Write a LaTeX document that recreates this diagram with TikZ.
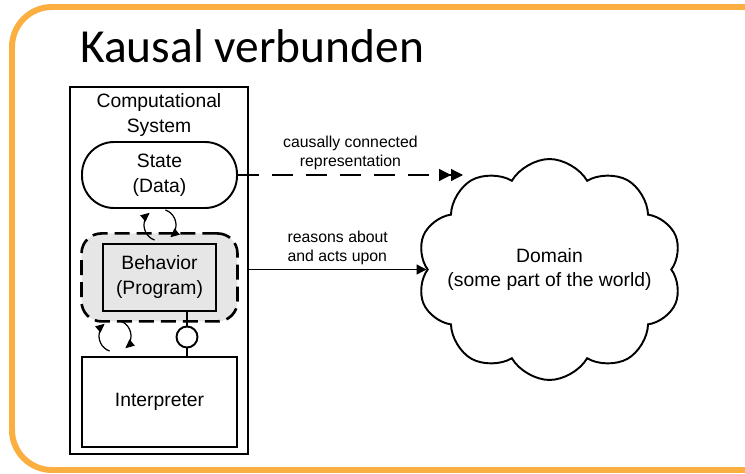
\documentclass[tikz,border=0pt]{standalone}
\usepackage{fontspec}
\setmainfont{Liberation Sans}
\newfontfamily\titlefont{Carlito}
\usepackage{tikz}
\usetikzlibrary{arrows.meta,positioning,shapes.symbols,backgrounds}
\definecolor{frameorange}{RGB}{251,175,64}
\definecolor{regiongray}{RGB}{230,230,230}

\begin{document}
\begin{tikzpicture}[x=0.02cm, y=0.02cm,
    box/.style={draw, line width=1.1pt, align=center, font=\fontsize{11}{14.2}\selectfont},
    small/.style={font=\fontsize{9}{10.8}\selectfont, inner sep=0pt},
    loop/.style={line width=.7pt, -{Triangle[length=1.8mm,width=1.6mm]}}]
  \useasboundingbox (0,0) rectangle (745,-474);
  \draw[frameorange, line width=3.4pt, rounded corners=0.8cm] (760,-7) -- (12,-7) -- (12,-470) -- (760,-470);
  \node (title) [anchor=base west, inner sep=0, font=\titlefont\fontsize{27}{30}\selectfont] at (80,-62) {Kausal verbunden};

  % computational system
  \node (sys) [draw, line width=1.1pt, minimum width=3.56cm, minimum height=7.34cm] at (159,-270.5) {};
  \node (systxt) [box, draw=none, anchor=north, inner sep=0] at (159,-93) {Computational\\System};
  \node (state) [box, rounded corners=0.64cm, minimum width=3.1cm, minimum height=1.32cm] at (159.5,-175) {State\\(Data)};
  \node (beh) [box, below=0.68cm of state, minimum width=2.26cm, minimum height=1.34cm] {Behavior\\(Program)};
  \node (interp) [box, below=0.88cm of beh, minimum width=3.1cm, minimum height=1.8cm] {Interpreter};
  \begin{scope}[on background layer]
    \node (region) [draw, fill=regiongray, line width=1.5pt, dash pattern=on 0.3cm off 0.14cm, rounded corners=0.4cm, minimum width=3.12cm, minimum height=1.76cm] at (beh) {};
  \end{scope}

  % lollipop between program and interpreter
  \node (sock) [circle, draw, line width=1.1pt, fill=white, minimum size=0.42cm, inner sep=0] at (187,-337) {};
  \draw[line width=.7pt] (sock) -- (sock |- beh.south);
  \draw[line width=.7pt] (sock) -- (sock |- interp.north);

  % loops
  \coordinate (c1) at (160,-225);
  \coordinate (c2) at (115,-336);
  \draw[loop] (c1) ++(250:16) arc[start angle=250, end angle=130, radius=16];
  \draw[loop] (c1) ++(70:16) arc[start angle=70, end angle=-50, radius=16];
  \draw[loop] (c2) ++(250:16) arc[start angle=250, end angle=130, radius=16];
  \draw[loop] (c2) ++(70:16) arc[start angle=70, end angle=-50, radius=16];

  % domain
  \node (dom) [cloud, draw, line width=1.1pt, cloud puffs=10, cloud puff arc=120, cloud ignores aspect, inner sep=0, minimum width=5.3cm, minimum height=4.42cm,
    label={[align=center, font=\fontsize{11}{14.2}\selectfont]center:Domain\\(some part of the world)}] at (549.5,-269.5) {};
  \coordinate (dtip) at (463,-175);

  \draw[line width=.7pt, dash pattern=on 0.42cm off 0.26cm, -{Triangle[length=2.4mm,width=2.4mm]Triangle[length=2.4mm,width=2.4mm]}] (state.east) -- node[small, midway, above=2.5pt, align=center] {causally connected\\representation} (dtip);
  \draw[line width=.7pt, -{Triangle[length=2mm,width=2mm]}] (sys.east |- dom.west) -- node[small, midway, above=2.5pt, align=left] {reasons about\\and acts upon} (dom.west);
\end{tikzpicture}
\end{document}
